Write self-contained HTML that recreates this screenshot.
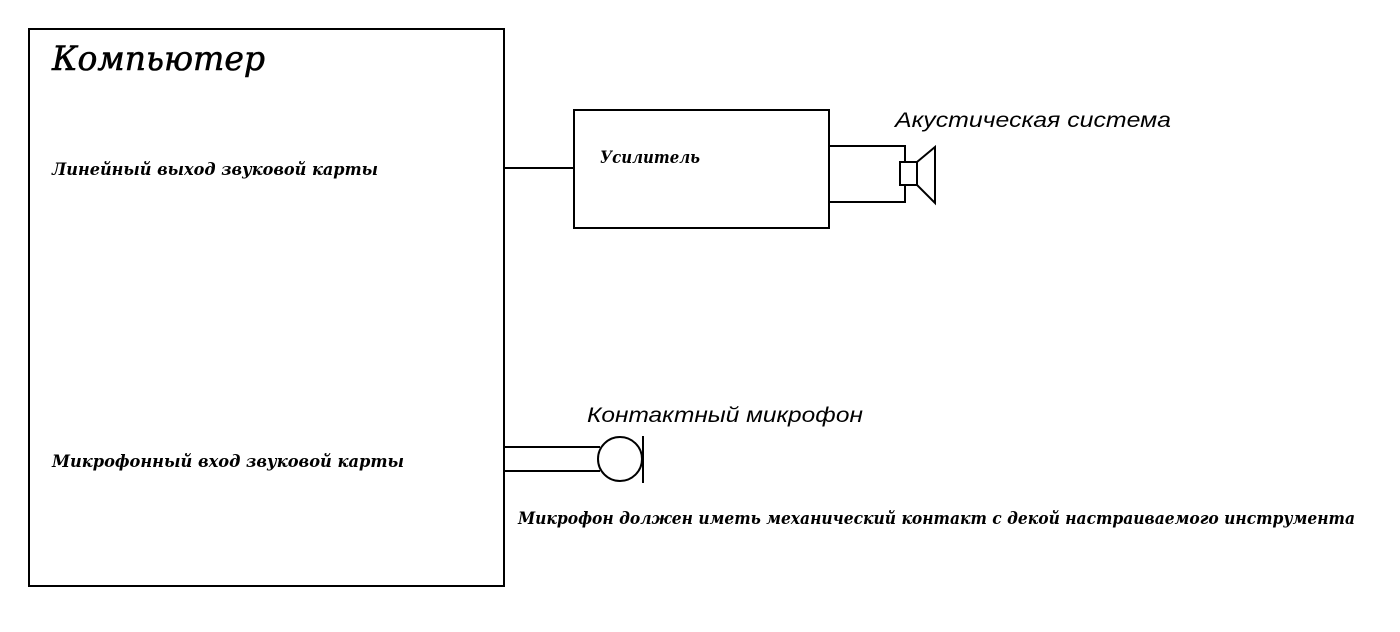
<!DOCTYPE html>
<html><head><meta charset="utf-8"><style>html,body{margin:0;padding:0;background:#fff}svg{display:block}</style></head>
<body>
<svg width="1400" height="632" viewBox="0 0 1400 632" xmlns="http://www.w3.org/2000/svg">
<g fill="none" stroke="#000" stroke-width="2">
<rect x="29" y="29" width="475" height="557"/>
<rect x="574" y="110" width="255" height="118"/>
<line x1="504" y1="168" x2="574" y2="168"/>
<polyline points="829,146 905,146 905,162"/>
<polyline points="829,202 905,202 905,185"/>
<rect x="900" y="162" width="17" height="23"/>
<polygon points="917,162 935,147 935,203 917,185"/>
<line x1="504" y1="447" x2="600" y2="447"/>
<line x1="504" y1="471" x2="600" y2="471"/>
<circle cx="620" cy="459" r="22"/>
<line x1="643" y1="436" x2="643" y2="483"/>
</g>
<g font-family="'DejaVu Serif','Liberation Serif',serif" font-style="italic" font-weight="bold" fill="#000">
<text x="52" y="70" font-size="34" font-weight="normal" stroke="#000" stroke-width="0.6" textLength="213" lengthAdjust="spacingAndGlyphs">Компьютер</text>
<text x="52" y="175" font-size="17" textLength="326" lengthAdjust="spacingAndGlyphs">Линейный выход звуковой карты</text>
<text x="52" y="467" font-size="17" textLength="352" lengthAdjust="spacingAndGlyphs">Микрофонный вход звуковой карты</text>
<text x="600" y="163" font-size="17" textLength="100" lengthAdjust="spacingAndGlyphs">Усилитель</text>
<text x="518" y="524" font-size="17" textLength="837" lengthAdjust="spacingAndGlyphs">Микрофон должен иметь механический контакт с декой настраиваемого инструмента</text>
</g>
<g font-family="'Liberation Sans',sans-serif" font-style="italic" fill="#000" font-size="21">
<text x="895" y="127" textLength="276" lengthAdjust="spacingAndGlyphs">Акустическая система</text>
<text x="587" y="422" textLength="276" lengthAdjust="spacingAndGlyphs">Контактный микрофон</text>
</g>
</svg>
</body></html>
